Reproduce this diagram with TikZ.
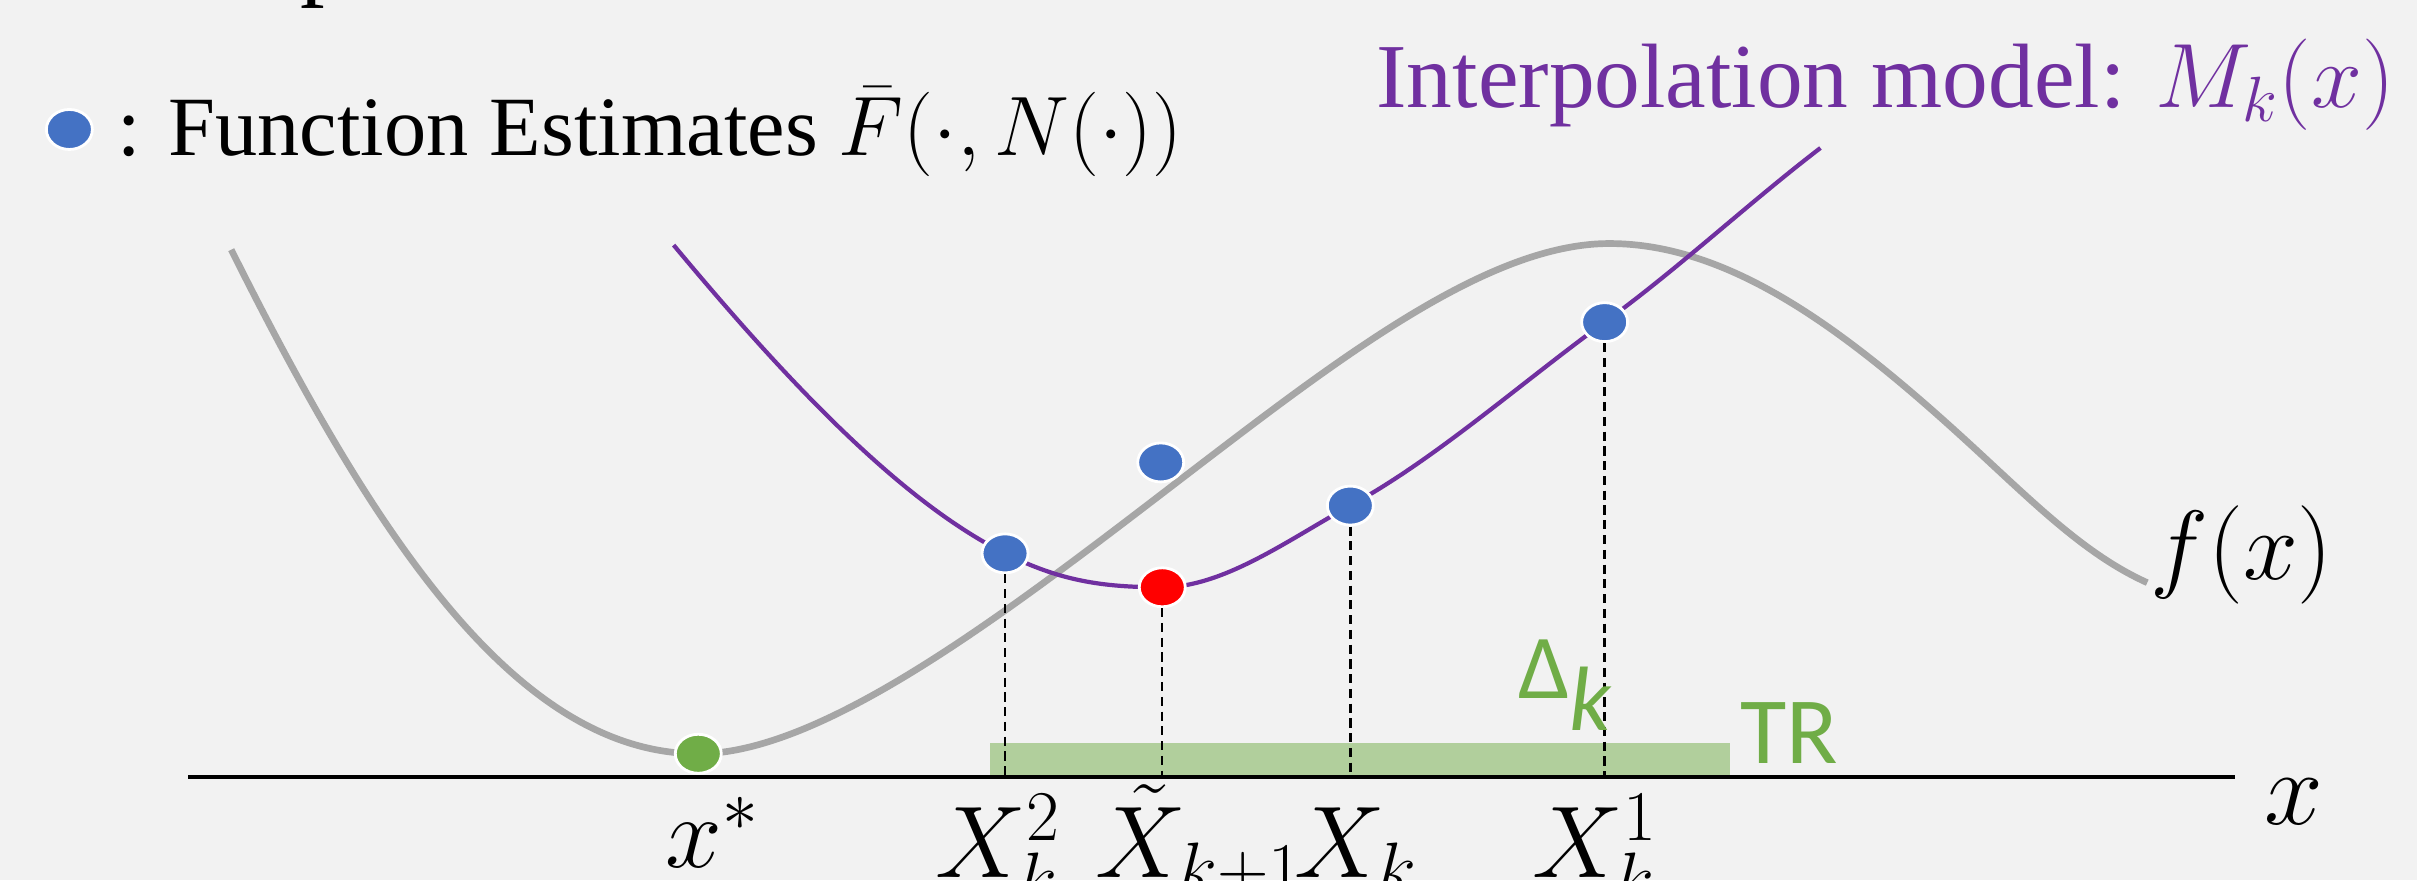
\documentclass[tikz,border=0pt]{standalone}
\usepackage{fix-cm}
\usepackage{fontspec}
\setmainfont{Liberation Serif}
\newfontfamily\calibri{Carlito}
\usetikzlibrary{shapes.geometric}
\definecolor{bg}{HTML}{F2F2F2}
\definecolor{dotblue}{HTML}{4472C4}
\definecolor{dotgreen}{HTML}{70AD47}
\definecolor{purp}{HTML}{7030A0}
\definecolor{fgray}{HTML}{A6A6A6}
\definecolor{trbar}{HTML}{B1CF9C}
\tikzset{
  dotbase/.style={ellipse, draw=white, line width=0.8pt, minimum width=0.46cm, minimum height=0.39cm, inner sep=0pt},
  bdot/.style={dotbase, fill=dotblue},
  rdot/.style={dotbase, fill=red},
  gdot/.style={dotbase, fill=dotgreen},
  fcurve/.style={fgray, line width=1.9pt},
  mcurve/.style={purp, line width=1.2pt},
  dropline/.style={black, line width=0.7pt, dash pattern=on 2.6pt off 1.6pt},
  lbl/.style={anchor=base west, inner sep=0pt, outer sep=0pt},
}
\begin{document}
\begin{tikzpicture}[x=0.015415cm, y=-0.015415cm]
\fill[bg] (0,0) rectangle (1568,571);
\useasboundingbox (0,0) rectangle (1568,571);
% fragment of a title above
\node[lbl, font=\fontsize{28}{32}\selectfont] (ttl) at (195,-8) {p};
% legend
\node[bdot, minimum height=0.40cm] (leg) at (45,84) {};
\node[lbl, font=\fontsize{24}{28}\selectfont] (legtxt) at (76,101) {: Function Estimates $\bar{F}(\cdot,N(\cdot))$};
\node[lbl, font=\fontsize{26}{30}\selectfont, text=purp] (mlab) at (893,70) {Interpolation model: $M_k(x)$};
% trust region bar
\fill[trbar] (642,482) rectangle (1122,504);
% axis
\coordinate (axL) at (122,504);
\coordinate (axR) at (1450,504);
\draw[black, line width=1.1pt] (axL) -- (axR);
% true function f(x)
\draw[fcurve] (150,162) .. controls (240,342) and (333,489) .. (453,489)
  .. controls (543,489) and (680,376) .. (800,285)
  .. controls (890,216.6) and (974,158) .. (1044,158)
  .. controls (1124,158) and (1200,216.4) .. (1280,290)
  .. controls (1320,326.8) and (1353,360) .. (1393,378);
% interpolation model M_k(x)
\draw[mcurve] (437,159) .. controls (507,243) and (582,324) .. (652,359)
  .. controls (687,376.5) and (714,381) .. (754,381)
  .. controls (794,381) and (836,350) .. (876,328)
  .. controls (931,298) and (986,249) .. (1041,209)
  .. controls (1088,175) and (1134,132) .. (1181,96);
% dots
\node[bdot] (d2) at (652,359) {};
\node[rdot] (dn) at (754,381) {};
\node[bdot] (dk) at (876,328) {};
\node[bdot] (d1) at (1041,209) {};
\node[bdot] (dx) at (753,300) {};
\node[gdot] (ds) at (453,489) {};
% drop lines
\draw[dropline] (d2) -- (d2 |- axL);
\draw[dropline] (dn) -- (dn |- axL);
\draw[dropline] (dk) -- (dk |- axL);
\draw[dropline] (d1) -- (d1 |- axL);
% labels
\node[lbl, font=\fontsize{26}{30}\selectfont, text=dotgreen] (dlt) at (985,453) {{\calibri Δ}$_{\mbox{\calibri\itshape k}}$};
\node[lbl, font=\fontsize{27}{30}\selectfont\calibri, text=dotgreen] (tr) at (1129,495) {TR};
\node[lbl, font=\fontsize{28}{32}\selectfont] (flab) at (1395,376) {$f(x)$};
\node[lbl, font=\fontsize{30}{34}\selectfont] (xlab) at (1469,535) {$x$};
\node[lbl, font=\fontsize{29}{33}\selectfont] (lxs) at (432,563) {$x^*$};
\node[lbl, font=\fontsize{29}{33}\selectfont] (lx2) at (607,569) {$X_k^2$};
\node[lbl, font=\fontsize{29}{33}\selectfont] (lxn) at (711,569) {$\tilde{X}_{k+1}$};
\node[lbl, font=\fontsize{29}{33}\selectfont] (lxk) at (840,569) {$X_k$};
\node[lbl, font=\fontsize{29}{33}\selectfont] (lx1) at (994,569) {$X_k^1$};
\end{tikzpicture}
\end{document}
